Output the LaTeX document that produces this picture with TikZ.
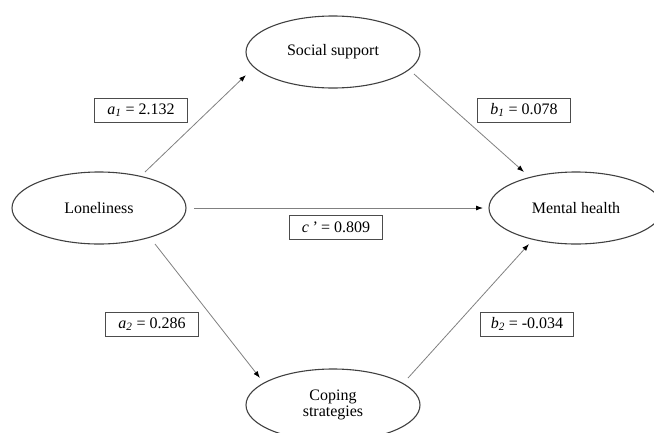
\documentclass[tikz,border=0pt]{standalone}
\usepackage{fontspec}
\setmainfont{Liberation Serif}
\usetikzlibrary{arrows.meta,positioning,calc,shapes.geometric}

\begin{document}
\begin{tikzpicture}[x=1pt, y=-1pt, on grid, font=\fontsize{16}{17}\selectfont]
\tikzstyle{var}=[ellipse, draw=black!75, line width=1.1pt, minimum width=174pt, minimum height=72pt, inner sep=0pt, align=center]
\tikzstyle{coef}=[draw=black!70, line width=0.8pt, minimum width=93pt, minimum height=24pt, inner sep=0pt]
\tikzstyle{link}=[draw=black!50, line width=0.8pt, -{Latex[length=7pt,width=5pt,color=black]}]
\useasboundingbox (0,0) rectangle (654,432);
\clip (0,0) rectangle (654,432);

\node[var]    (lone) at (99,208) {Loneliness};
\node[var]    (mh)  [right=477pt of lone] {Mental health};
\node[var]    (soc) [above right=156pt and 234pt of lone] {Social support};
\node[var, font=\fontsize{16}{16}\selectfont] (cop) [below right=197pt and 234pt of lone] {Coping\\strategies};

% paths
\draw[link] ($(lone)+(46,-36)$) -- ($(soc)+(-87,23)$);
\draw[link] ($(soc)+(81,22)$)   -- ($(mh)+(-52,-36)$);
\draw[link] ($(lone)+(95,0)$)   -- ($(mh)+(-93,0)$);
\draw[link] ($(lone)+(56,36)$)  -- ($(cop)+(-73,-27)$);
\draw[link] ($(cop)+(75,-27)$)  -- ($(mh)+(-47,36)$);

% coefficients
\node[coef] (a1) at (141,110) {\textit{a}\textsubscript{\textit{1}} = 2.132};
\node[coef] (b1) at (524,110) {\textit{b}\textsubscript{\textit{1}} = 0.078};
\node[coef] (c)  at (336,227) {\textit{c\,'} = 0.809};
\node[coef] (a2) at (152,324) {\textit{a}\textsubscript{\textit{2}} = 0.286};
\node[coef] (b2) at (527,324) {\textit{b}\textsubscript{\textit{2}} = -0.034};
\end{tikzpicture}
\end{document}
